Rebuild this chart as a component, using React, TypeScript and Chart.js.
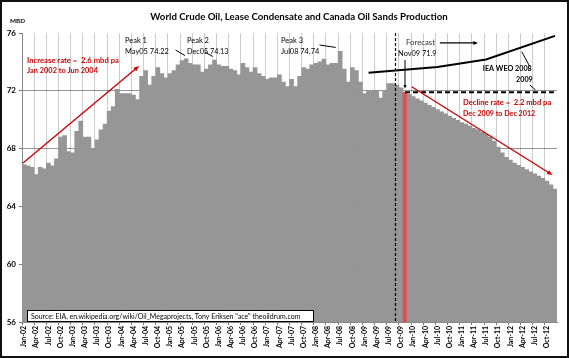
import React, { useEffect, useRef } from 'react';
import { Chart, registerables } from 'chart.js';
Chart.register(...registerables);

const years = ['02', '03', '04', '05', '06', '07', '08', '09', '10', '11', '12'];
const monthNames = ['Jan', 'Feb', 'Mar', 'Apr', 'May', 'Jun', 'Jul', 'Aug', 'Sep', 'Oct', 'Nov', 'Dec'];
const labels = years.flatMap((yy) => monthNames.map((m) => `${m}-${yy}`));

const p2002 = [66.9, 66.8, 66.7, 66.2, 66.7, 66.6, 67.0, 66.8, 67.3, 68.8, 68.9, 67.8];
const p2003 = [67.7, 69.2, 69.9, 68.8, 68.8, 68.0, 68.6, 69.3, 69.7, 70.6, 70.9, 72.1];
const p2004 = [71.8, 71.8, 71.8, 71.7, 71.4, 73.0, 73.4, 72.4, 73.0, 73.6, 73.2, 72.9];
const p2005 = [73.2, 73.4, 73.8, 74.1, 74.22, 73.9, 73.8, 73.8, 73.3, 73.5, 73.8, 74.13];
const p2006 = [73.8, 73.7, 73.7, 73.5, 73.4, 73.1, 73.9, 73.6, 73.3, 73.6, 73.2, 73.0];
const p2007 = [72.8, 72.9, 72.9, 73.1, 72.6, 72.3, 72.8, 72.3, 73.0, 73.6, 73.5, 73.8];
const p2008 = [73.9, 74.0, 74.2, 73.8, 73.9, 73.9, 74.74, 73.5, 72.6, 73.6, 73.4, 72.6];
const p2009 = [71.8, 72.0, 72.0, 72.0, 71.5, 72.0, 72.5, 72.5, 72.4, 72.2, 71.9, 71.75];
const p2010 = [71.6, 71.45, 71.3, 71.15, 71.0, 70.85, 70.7, 70.55, 70.4, 70.25, 70.1, 69.95];
const p2011 = [69.8, 69.7, 69.55, 69.4, 69.3, 69.15, 69.0, 68.8, 68.5, 68.1, 67.7, 67.4];
const p2012 = [67.2, 67.0, 66.85, 66.7, 66.55, 66.4, 66.25, 66.1, 65.95, 65.75, 65.5, 65.2];
const production = [...p2002, ...p2003, ...p2004, ...p2005, ...p2006, ...p2007, ...p2008, ...p2009, ...p2010, ...p2011, ...p2012];

const highlightMonth = 'Nov-09';
const ieaWeo2008 = [
  { x: 'Feb-09', y: 73.25 },
  { x: 'Jul-10', y: 73.65 },
  { x: 'Jul-11', y: 74.17 },
  { x: 'Dec-12', y: 75.8 },
];
const ieaWeo2009 = [
  { x: 'Nov-09', y: 71.9 },
  { x: 'Dec-12', y: 71.9 },
];
const yMin = 56;
const yMax = 76;
const yStep = 4;

const FONT = 'Lato';
const RED = '#cc0000';

function fitText(ctx: CanvasRenderingContext2D, text: string, x: number, y: number, width: number, weight: string, color: string, align: CanvasTextAlign = 'left') {
  ctx.font = `${weight} 10px ${FONT}`;
  const w = ctx.measureText(text).width;
  const size = (10 * width) / w;
  ctx.font = `${weight} ${size}px ${FONT}`;
  ctx.fillStyle = color;
  ctx.textAlign = align;
  ctx.textBaseline = 'middle';
  ctx.fillText(text, x, y);
}

function arrow(ctx: CanvasRenderingContext2D, x1: number, y1: number, x2: number, y2: number, color: string, lw: number, head: number) {
  const ang = Math.atan2(y2 - y1, x2 - x1);
  ctx.strokeStyle = color;
  ctx.fillStyle = color;
  ctx.lineWidth = lw;
  ctx.beginPath();
  ctx.moveTo(x1, y1);
  ctx.lineTo(x2 - Math.cos(ang) * head * 0.8, y2 - Math.sin(ang) * head * 0.8);
  ctx.stroke();
  ctx.beginPath();
  ctx.moveTo(x2, y2);
  ctx.lineTo(x2 - head * Math.cos(ang - 0.4), y2 - head * Math.sin(ang - 0.4));
  ctx.lineTo(x2 - head * Math.cos(ang + 0.4), y2 - head * Math.sin(ang + 0.4));
  ctx.closePath();
  ctx.fill();
}

function line(ctx: CanvasRenderingContext2D, x1: number, y1: number, x2: number, y2: number, color: string, lw: number) {
  ctx.strokeStyle = color;
  ctx.lineWidth = lw;
  ctx.beginPath();
  ctx.moveTo(x1, y1);
  ctx.lineTo(x2, y2);
  ctx.stroke();
}

const annotationPlugin = {
  id: 'annotations',
  afterDraw(chart: any) {
    const { ctx, chartArea } = chart;
    const xs = chart.scales.x;
    const ys = chart.scales.y;
    const X = (i: number) => xs.getPixelForValue(i);
    const Y = (v: number) => ys.getPixelForValue(v);
    ctx.save();

    // forecast start marker (vertical dotted line)
    ctx.setLineDash([3, 2]);
    const fx = Math.round((X(91) + X(92)) / 2) + 0.5;
    line(ctx, fx, chartArea.top, fx, chartArea.bottom, '#000', 1.2);
    ctx.setLineDash([]);

    // titles
    fitText(ctx, 'World Crude Oil, Lease Condensate and Canada Oil Sands Production', 299, 17, 298, 'bold', '#000', 'center');
    fitText(ctx, 'MBD', 10, 21, 15, 'bold', '#000');

    // increase
    fitText(ctx, 'Increase rate =  2.6 mbd pa', X(0.73), Y(74.13), 92, 'bold', RED);
    fitText(ctx, 'Jan 2002 to Jun 2004', X(0.73), Y(73.37), 71, 'bold', RED);
    arrow(ctx, X(-0.25), Y(67.0), X(28.4), Y(73.72), RED, 1.4, 6);

    // peaks
    fitText(ctx, 'Peak 1', X(24.9), Y(75.45), 22, 'normal', '#000');
    fitText(ctx, 'May05 74.22', X(24.9), Y(74.69), 44, 'normal', '#000');
    line(ctx, X(37.4), Y(74.82), X(39.7), Y(74.44), '#000', 1);
    fitText(ctx, 'Peak 2', X(40.2), Y(75.45), 22, 'normal', '#000');
    fitText(ctx, 'Dec05 74.13', X(40.2), Y(74.69), 41.6, 'normal', '#000');
    line(ctx, X(44.6), Y(74.68), X(46.6), Y(74.37), '#000', 1);
    fitText(ctx, 'Peak 3', X(63.4), Y(75.45), 22, 'normal', '#000');
    fitText(ctx, 'Jul08 74.74', X(63.4), Y(74.69), 38.3, 'normal', '#000');
    line(ctx, X(72.9), Y(75.17), X(76.9), Y(75.0), '#000', 1);

    // forecast
    fitText(ctx, 'Forecast', X(94.25), Y(75.31), 29, 'normal', '#333');
    arrow(ctx, X(102.6), Y(75.31), X(112.0), Y(75.31), '#000', 1.2, 5);
    fitText(ctx, 'Nov09 71.9', X(92.3), Y(74.55), 38.4, 'normal', '#000');
    arrow(ctx, X(94), Y(74.13), X(94), Y(72.15), '#000', 1, 4);

    // IEA labels
    fitText(ctx, 'IEA WEO 2008', X(113.2), Y(73.51), 49, 'bold', '#000');
    fitText(ctx, '2009', X(121.4), Y(72.75), 16.7, 'bold', '#000');
    line(ctx, X(122.8), Y(74.71), X(124.8), Y(73.67), '#000', 1);
    line(ctx, X(124.8), Y(72.4), X(126.2), Y(72.06), '#000', 1);

    // decline
    fitText(ctx, 'Decline rate =  2.2 mbd pa', X(108.3), Y(71.16), 88.4, 'bold', RED);
    fitText(ctx, 'Dec 2009 to Dec 2012', X(108.3), Y(70.44), 72.4, 'bold', RED);
    arrow(ctx, X(95.65), Y(72.28), X(130.4), Y(66.17), RED, 1.4, 6);

    // source box
    ctx.fillStyle = '#fff';
    ctx.fillRect(27, 310, 287, 12);
    ctx.strokeStyle = '#000';
    ctx.lineWidth = 1;
    ctx.strokeRect(27.5, 310.5, 286, 11);
    fitText(ctx, 'Source: EIA, en.wikipedia.org/wiki/Oil_Megaprojects, Tony Eriksen "ace" theoildrum.com', 31, 316.5, 270, 'normal', '#000');

    // outer border
    ctx.strokeStyle = '#111';
    ctx.lineWidth = 2;
    ctx.strokeRect(1, 1, chart.width - 2, chart.height - 2);
    ctx.restore();
  },
};

export default function App() {
  const ref = useRef<HTMLCanvasElement | null>(null);
  useEffect(() => {
    document.body.style.margin = '0';
    const canvas = ref.current!;
    const chart = new Chart(canvas, {
      type: 'bar',
      data: {
        labels,
        datasets: [
          {
            type: 'line',
            data: ieaWeo2008 as any,
            borderColor: '#000',
            borderWidth: 2,
            pointRadius: 0,
            order: 0,
          } as any,
          {
            type: 'line',
            data: ieaWeo2009 as any,
            borderColor: '#000',
            borderWidth: 2,
            borderDash: [5, 3],
            pointRadius: 0,
            order: 0,
          } as any,
          {
            type: 'bar',
            data: production,
            backgroundColor: labels.map((l) => (l === highlightMonth ? '#e05050' : '#969696')),
            borderWidth: 0,
            barPercentage: 1,
            categoryPercentage: 1,
            order: 2,
          },
        ],
      },
      options: {
        responsive: false,
        animation: false,
        devicePixelRatio: 1,
        layout: { padding: { left: 0, right: 12, top: 33, bottom: 0 } },
        plugins: { legend: { display: false }, tooltip: { enabled: false }, title: { display: false } },
        scales: {
          x: {
            z: 1,
            offset: true,
            afterFit: (s: any) => { s.height = 36; },
            grid: {
              offset: true,
              color: (c: any) => (c.index % 3 === 0 ? 'rgba(0,0,0,0.2)' : 'rgba(0,0,0,0)'),
              tickColor: (c: any) => (c.index % 3 === 0 ? '#777' : 'rgba(0,0,0,0)'),
              tickLength: 3,
            },
            border: { color: '#888', width: 1 },
            ticks: {
              autoSkip: false,
              maxRotation: 90,
              minRotation: 90,
              padding: 1,
              color: '#000',
              font: { family: FONT, size: 7, weight: 'bold' },
              callback: (_v: any, i: number) => (i % 3 === 0 ? labels[i] : ''),
            },
          },
          y: {
            z: 1,
            min: yMin,
            max: yMax,
            afterFit: (s: any) => { s.width = 22; },
            grid: {
              color: (c: any) => (c.tick && (c.tick.value === yMin || c.tick.value === yMax) ? 'rgba(0,0,0,0)' : 'rgba(0,0,0,0.42)'),
              tickColor: '#777',
              tickLength: 3,
            },
            border: { color: '#888', width: 1 },
            ticks: {
              stepSize: yStep,
              padding: 3,
              color: '#000',
              font: { family: FONT, size: 8, weight: 'bold' },
            },
          },
        },
      },
      plugins: [annotationPlugin],
    } as any);
    return () => chart.destroy();
  }, []);
  return (
    <div style={{ width: 569, height: 358, background: '#fff' }}>
      <canvas ref={ref} width={569} height={358} style={{ display: 'block', width: 569, height: 358 }} />
    </div>
  );
}
